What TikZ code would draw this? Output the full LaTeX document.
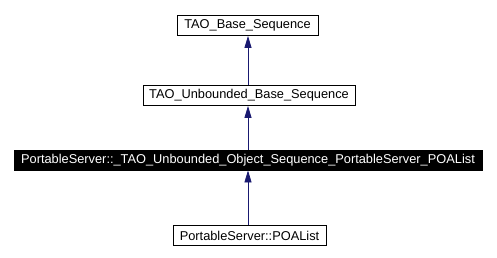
\documentclass[tikz,border=0pt]{standalone}
\usepackage{fontspec}
\setmainfont{Liberation Sans}
\usetikzlibrary{arrows.meta}
\definecolor{edgeblue}{HTML}{191970}
\begin{document}
\begin{tikzpicture}[x=1pt,y=-1pt,
  classbox/.style={draw=black, line width=0.8pt, fill=white, minimum height=20pt,
    inner sep=0pt, font=\fontsize{12.8}{14}\selectfont},
  focusbox/.style={classbox, fill=black, text=white},
  inherit/.style={draw=edgeblue, line width=0.8pt,
    -{Triangle[length=12pt,width=7pt]}, color=edgeblue}]
  \useasboundingbox (0,0) rectangle (497,257);
  \node[classbox, minimum width=141pt] (base) at (247.5,25.5) {TAO\_Base\_Sequence};
  \node[classbox, minimum width=212pt] (unb) at (249,95.5) {TAO\_Unbounded\_Base\_Sequence};
  \node[focusbox, minimum width=468pt] (obj) at (248,160) {PortableServer::\_TAO\_Unbounded\_Object\_Sequence\_PortableServer\_POAList};
  \node[classbox, minimum width=153pt] (poa) at (249.5,235.5) {PortableServer::POAList};
  \draw[inherit] (unb.north -| 248,0) -- (base.south -| 248,0);
  \draw[inherit] (obj.north -| 248,0) -- (unb.south -| 248,0);
  \draw[inherit] (poa.north -| 248,0) -- (obj.south -| 248,0);
\end{tikzpicture}
\end{document}
